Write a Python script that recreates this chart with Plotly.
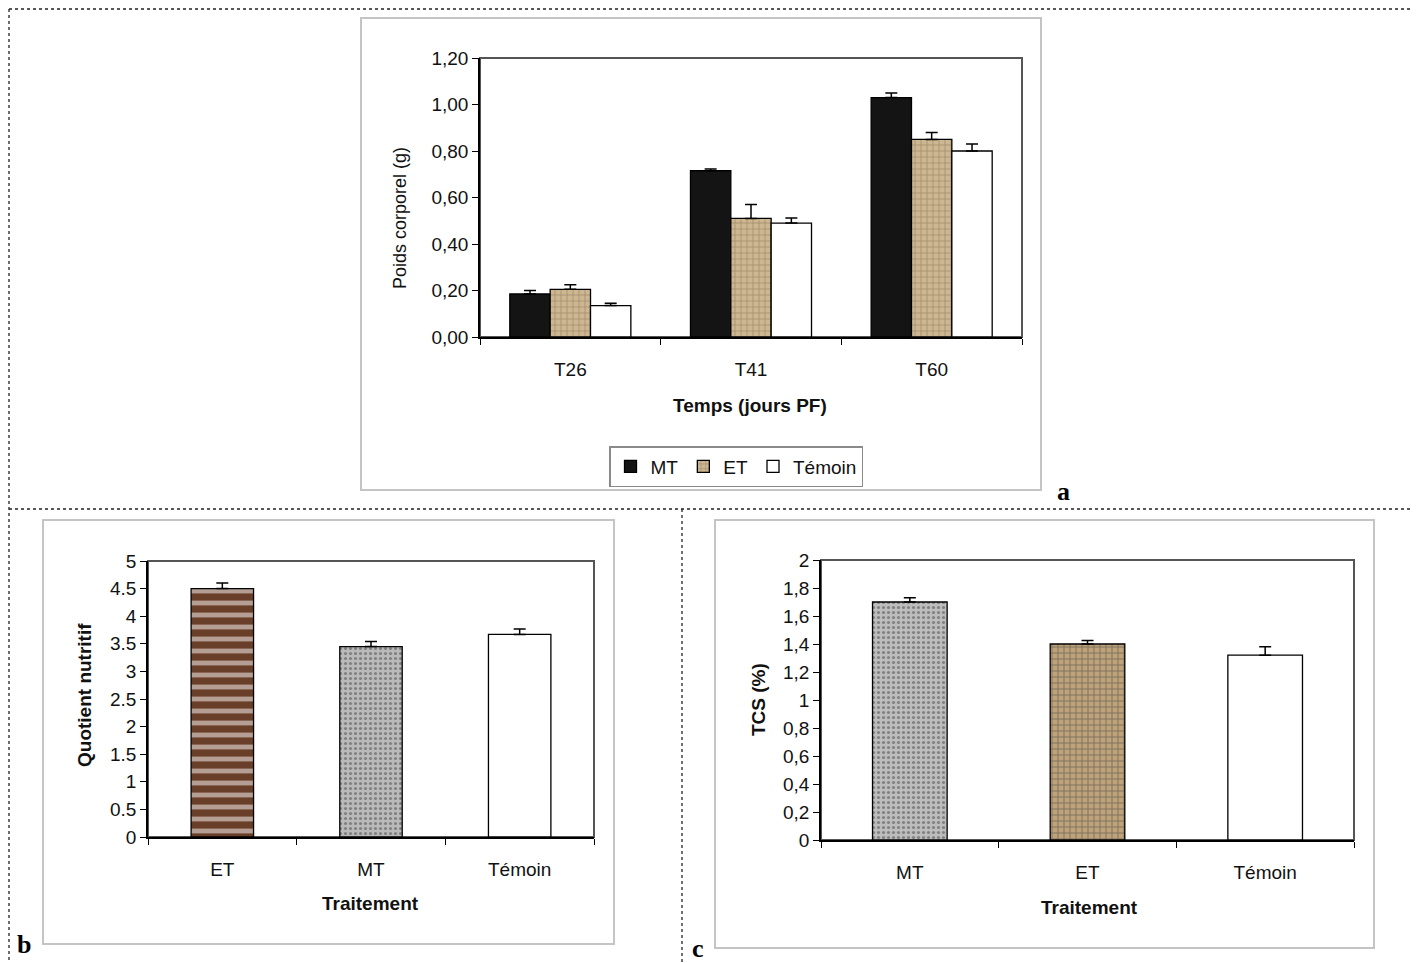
import plotly.graph_objects as go

# page has an 8px body margin; the figure is sized so that it fills the window
OFF = 8
W, H = 1418 - OFF, 963 - OFF

# ---------------- data ----------------
# Panel a
time_points = ["T26", "T41", "T60"]
a_mt = [0.185, 0.715, 1.03]
a_mt_err = [0.015, 0.008, 0.02]
a_et = [0.205, 0.51, 0.85]
a_et_err = [0.02, 0.06, 0.03]
a_temoin = [0.135, 0.49, 0.80]
a_temoin_err = [0.01, 0.022, 0.03]
a_tickvals = [0, 0.2, 0.4, 0.6, 0.8, 1.0, 1.2]
a_ticktext = ["0,00", "0,20", "0,40", "0,60", "0,80", "1,00", "1,20"]

# Panel b
b_cats = ["ET", "MT", "Témoin"]
b_vals = [4.5, 3.45, 3.67]
b_err = [0.1, 0.09, 0.1]
b_tickvals = [0, 0.5, 1, 1.5, 2, 2.5, 3, 3.5, 4, 4.5, 5]
b_ticktext = ["0", "0.5", "1", "1.5", "2", "2.5", "3", "3.5", "4", "4.5", "5"]

# Panel c
c_cats = ["MT", "ET", "Témoin"]
c_vals = [1.70, 1.40, 1.32]
c_err = [0.03, 0.025, 0.06]
c_tickvals = [0, 0.2, 0.4, 0.6, 0.8, 1.0, 1.2, 1.4, 1.6, 1.8, 2.0]
c_ticktext = ["0", "0,2", "0,4", "0,6", "0,8", "1", "1,2", "1,4", "1,6", "1,8", "2"]

# ---------------- helpers ----------------
def fx(x):
    return (x - OFF) / W

def fy(y):
    return 1 - (y - OFF) / H

FONT = "Liberation Sans, Arial, sans-serif"
SERIF = "Liberation Serif, Times New Roman, serif"

def err(arr):
    return dict(type="data", symmetric=False, array=arr, arrayminus=[0] * len(arr),
                color="black", thickness=1.5, width=6)

OUTLINE = dict(color="black", width=1.3)

fig = go.Figure()

# Panel a traces
fig.add_trace(go.Bar(x=time_points, y=a_mt, name="MT", xaxis="x", yaxis="y",
                     marker=dict(color="#141414", line=OUTLINE),
                     error_y=err(a_mt_err)))
fig.add_trace(go.Bar(x=time_points, y=a_et, name="ET", xaxis="x", yaxis="y",
                     marker=dict(color="#cdb792", line=OUTLINE,
                                 pattern=dict(shape="+", fgcolor="#7a6545", size=6, solidity=0.25)),
                     error_y=err(a_et_err)))
fig.add_trace(go.Bar(x=time_points, y=a_temoin, name="Témoin", xaxis="x", yaxis="y",
                     marker=dict(color="white", line=OUTLINE),
                     error_y=err(a_temoin_err)))

# Panel b trace
fig.add_trace(go.Bar(x=b_cats, y=b_vals, xaxis="x2", yaxis="y2", showlegend=False, width=0.42,
                     marker=dict(color=["#6a3f2a", "#bababa", "white"], line=OUTLINE,
                                 pattern=dict(shape=["-", ".", ""],
                                              fgcolor=["#8f6247", "#6a6a6a", "white"],
                                              size=[12, 5, 8], solidity=[0.4, 0.3, 0.2])),
                     error_y=err(b_err)))

# Panel c trace
fig.add_trace(go.Bar(x=c_cats, y=c_vals, xaxis="x3", yaxis="y3", showlegend=False, width=0.42,
                     marker=dict(color=["#bdbdbd", "#bda27a", "white"], line=OUTLINE,
                                 pattern=dict(shape=[".", "+", ""],
                                              fgcolor=["#6a6a6a", "#6b5638", "white"],
                                              size=[5, 6, 8], solidity=[0.3, 0.3, 0.2])),
                     error_y=err(c_err)))

tickfont = dict(family=FONT, size=19, color="#111")

def xax(dom, anchor):
    return dict(domain=dom, anchor=anchor, type="category", tickson="boundaries",
                ticks="outside", ticklen=6, tickcolor="black", showline=True,
                linecolor="black", linewidth=1.5, showgrid=False, zeroline=False,
                automargin=False, ticklabelstandoff=14, tickfont=tickfont)

def yax(dom, anchor, rng, tv, tt):
    return dict(domain=dom, anchor=anchor, range=rng, tickvals=tv, ticktext=tt,
                ticks="outside", ticklen=6, tickcolor="black", showline=True,
                linecolor="black", linewidth=1.5, showgrid=False, zeroline=False,
                automargin=False, tickfont=tickfont)

fig.update_layout(
    width=W, height=H,
    margin=dict(l=0, r=0, t=0, b=0, autoexpand=False),
    paper_bgcolor="white", plot_bgcolor="white",
    barmode="group", bargap=0.33, bargroupgap=0,
    font=dict(family=FONT, color="#111"),
    xaxis=xax([fx(480), fx(1022)], "y"),
    yaxis=yax([fy(337), fy(58)], "x", [0, 1.2], a_tickvals, a_ticktext),
    xaxis2=xax([fx(148), fx(594)], "y2"),
    yaxis2=yax([fy(837), fy(561)], "x2", [0, 5], b_tickvals, b_ticktext),
    xaxis3=xax([fx(821), fx(1354)], "y3"),
    yaxis3=yax([fy(840), fy(560)], "x3", [0, 2], c_tickvals, c_ticktext),
    legend=dict(orientation="h", x=fx(609), y=fy(446), xanchor="left", yanchor="top",
                bordercolor="#8a8a8a", borderwidth=1.5, bgcolor="white",
                font=dict(family=FONT, size=19, color="#111"),
                itemwidth=30, traceorder="normal"),
)

shapes = []
# light grey panel frames
for (x0, y0, x1, y1) in [(361, 18, 1041, 490), (43, 520, 614, 944), (715, 520, 1374, 948)]:
    shapes.append(dict(type="rect", xref="paper", yref="paper",
                       x0=fx(x0), y0=fy(y1), x1=fx(x1), y1=fy(y0),
                       line=dict(color="#c4c4c4", width=2), layer="below"))
# plot-area frames (grey)
for xr in ["x", "x2", "x3"]:
    shapes.append(dict(type="rect", xref=xr + " domain", yref=xr.replace("x", "y") + " domain",
                       x0=0, y0=0, x1=1, y1=1, line=dict(color="#555555", width=2), layer="below"))
# dashed separators
dash = dict(color="#222", width=1.3, dash="dot")
for (x0, y0, x1, y1) in [(9, 9, 1412, 9), (9, 9, 9, 963), (1412, 9, 1412, 963),
                         (9, 509, 1412, 509), (682, 509, 682, 963)]:
    shapes.append(dict(type="line", xref="paper", yref="paper",
                       x0=fx(x0), y0=fy(y0), x1=fx(x1), y1=fy(y1), line=dash))
fig.update_layout(shapes=shapes)

annotations = []
# panel letters
for (txt, x, y) in [("a", 1063, 492), ("b", 24, 944), ("c", 698, 948)]:
    annotations.append(dict(text="<b>" + txt + "</b>", x=fx(x), y=fy(y), xref="paper", yref="paper",
                            showarrow=False, xanchor="center", yanchor="middle",
                            font=dict(family=SERIF, size=26, color="black")))
# axis titles
titles = [
    ("Poids corporel (g)", 400, 218, -90, False, 18),
    ("Temps (jours PF)", 750, 405, 0, True, 19),
    ("Quotient nutritif", 84, 695, -90, True, 19),
    ("Traitement", 370, 903, 0, True, 19),
    ("TCS (%)", 758, 700, -90, True, 19),
    ("Traitement", 1089, 907, 0, True, 19),
]
for (txt, x, y, ang, bold, size) in titles:
    annotations.append(dict(text=("<b>%s</b>" % txt) if bold else txt, x=fx(x), y=fy(y),
                            xref="paper", yref="paper", showarrow=False, textangle=ang,
                            xanchor="center", yanchor="middle",
                            font=dict(family=FONT, size=size, color="#111")))
fig.update_layout(annotations=annotations)

fig.write_html("out.html")
